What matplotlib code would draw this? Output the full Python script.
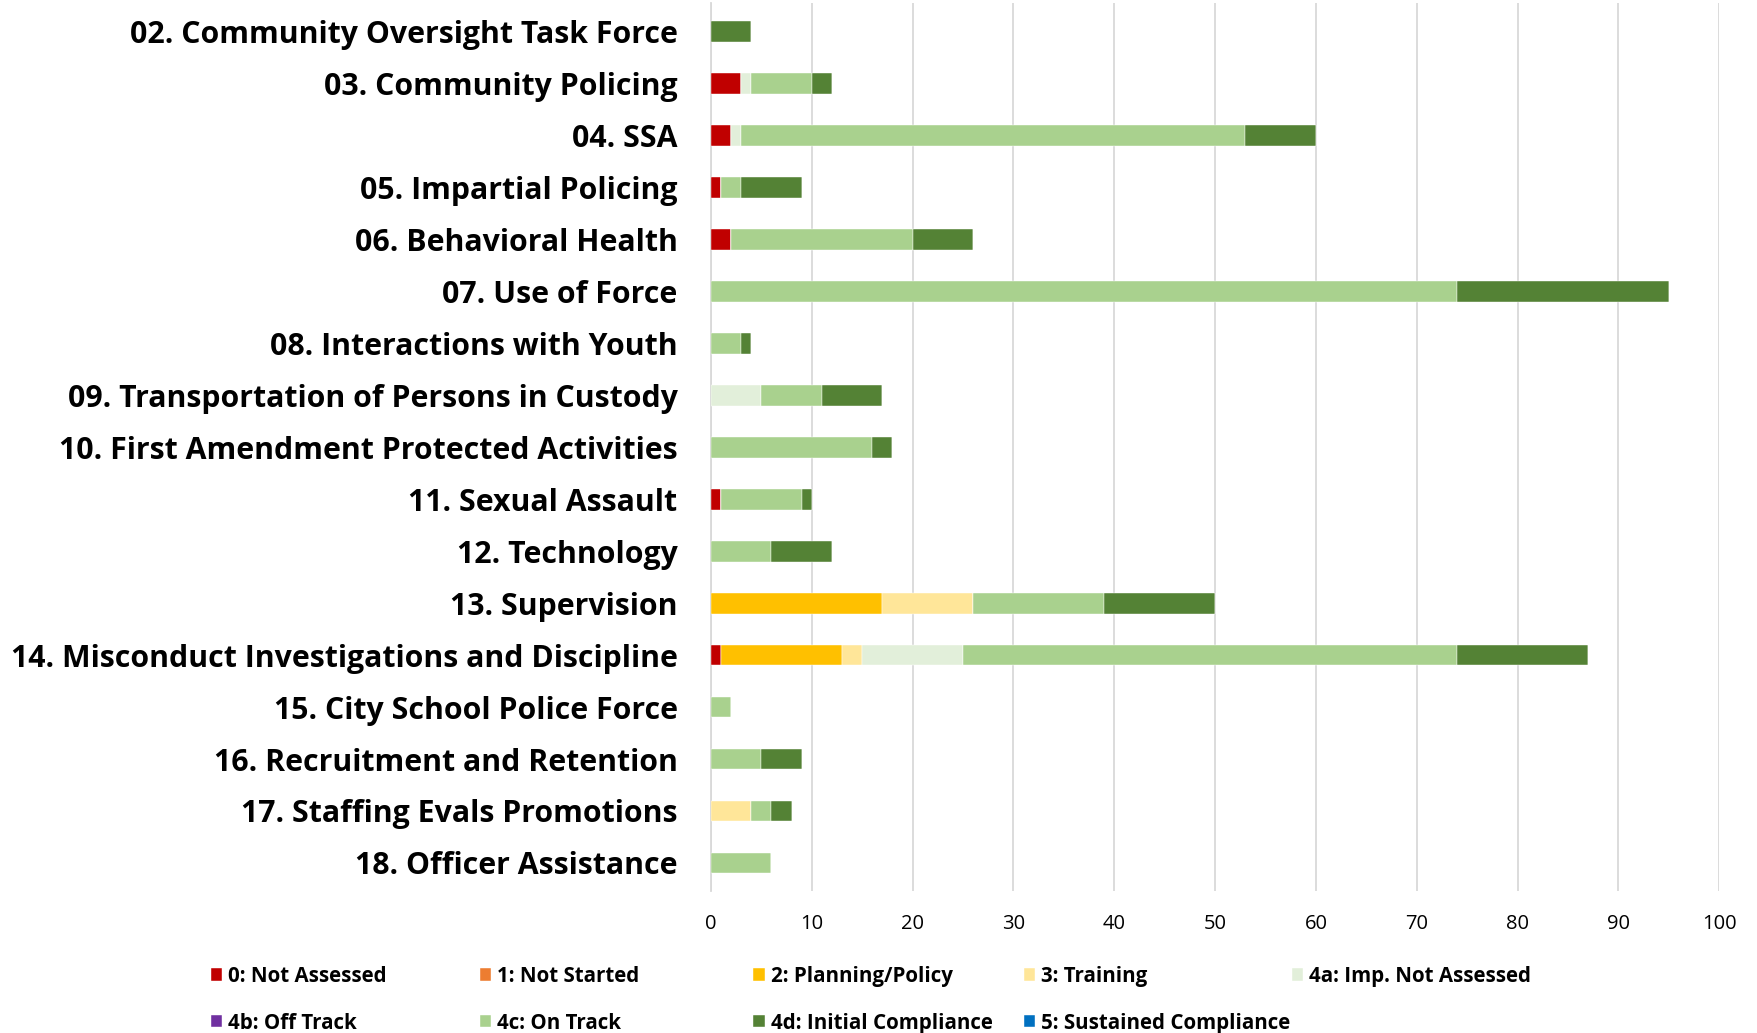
import numpy as np
import matplotlib
matplotlib.use('Agg')
import matplotlib.pyplot as plt

plt.rcParams['font.family'] = ['Open Sans', 'DejaVu Sans']

categories = ['02. Community Oversight Task Force', '03. Community Policing', '04. SSA',
              '05. Impartial Policing', '06. Behavioral Health', '07. Use of Force',
              '08. Interactions with Youth', '09. Transportation of Persons in Custody',
              '10. First Amendment Protected Activities', '11. Sexual Assault',
              '12. Technology', '13. Supervision',
              '14. Misconduct Investigations and Discipline', '15. City School Police Force',
              '16. Recruitment and Retention', '17. Staffing Evals Promotions',
              '18. Officer Assistance']

series_names = ['0: Not Assessed', '1: Not Started', '2: Planning/Policy', '3: Training',
                '4a: Imp. Not Assessed', '4b: Off Track', '4c: On Track',
                '4d: Initial Compliance', '5: Sustained Compliance']
colors = ['#C00000', '#ED7D31', '#FFC000', '#FFE699', '#E2EFDA', '#7030A0',
          '#A9D18E', '#548235', '#0070C0']

not_assessed = [0, 3, 2, 1, 2, 0, 0, 0, 0, 1, 0, 0, 1, 0, 0, 0, 0]
not_started = [0] * 17
planning = [0, 0, 0, 0, 0, 0, 0, 0, 0, 0, 0, 17, 12, 0, 0, 0, 0]
training = [0, 0, 0, 0, 0, 0, 0, 0, 0, 0, 0, 9, 2, 0, 0, 4, 0]
imp_not_assessed = [0, 1, 1, 0, 0, 0, 0, 5, 0, 0, 0, 0, 10, 0, 0, 0, 0]
off_track = [0] * 17
on_track = [0, 6, 50, 2, 18, 74, 3, 6, 16, 8, 6, 13, 49, 2, 5, 2, 6]
initial = [4, 2, 7, 6, 6, 21, 1, 6, 2, 1, 6, 11, 13, 0, 4, 2, 0]
sustained = [0] * 17

series = [not_assessed, not_started, planning, training, imp_not_assessed,
          off_track, on_track, initial, sustained]

fig = plt.figure(figsize=(17.58, 10.33), dpi=100)
ax = fig.add_axes([0.4044, 0.137, 0.978 - 0.4044, 0.86])

y = np.arange(len(categories))
left = np.zeros(len(categories))
bars = []
for name, vals, c in zip(series_names, series, colors):
    vals = np.array(vals, dtype=float)
    b = ax.barh(y, vals, left=left, height=0.4, color=c, label=name,
                edgecolor='white', linewidth=0.3, zorder=3)
    bars.append(b)
    left += vals

ax.set_xlim(0, 100)
ax.set_ylim(len(categories) - 0.45, -0.55)
ax.set_xticks(np.arange(0, 101, 10))
ax.set_yticks(y)
ax.set_yticklabels(categories, fontsize=21.8, fontweight='bold')
ax.tick_params(axis='y', length=0, pad=24)
ax.tick_params(axis='x', length=0, labelsize=14.5, pad=16)
ax.grid(axis='x', color='#d9d9d9', linewidth=1.3, zorder=0)
for s in ['top', 'right', 'bottom']:
    ax.spines[s].set_visible(False)
ax.spines['left'].set_color('#d9d9d9')
ax.spines['left'].set_linewidth(1.3)

# legend, 5 evenly spaced columns like the original
col_x = [0.1199, 0.273, 0.4286, 0.5823, 0.7347]
for i, x0 in enumerate(col_x):
    idx = [i, i + 5] if i + 5 < len(bars) else [i]
    fig.legend([bars[k] for k in idx], [series_names[k] for k in idx],
               loc='upper left', bbox_to_anchor=(x0, 0.065), frameon=False,
               prop={'size': 14.8, 'weight': 'bold'}, handlelength=0.55,
               handleheight=0.55, handletextpad=0.3, labelspacing=1.25,
               borderaxespad=0, borderpad=0)

fig.savefig('out.png', dpi=100)
